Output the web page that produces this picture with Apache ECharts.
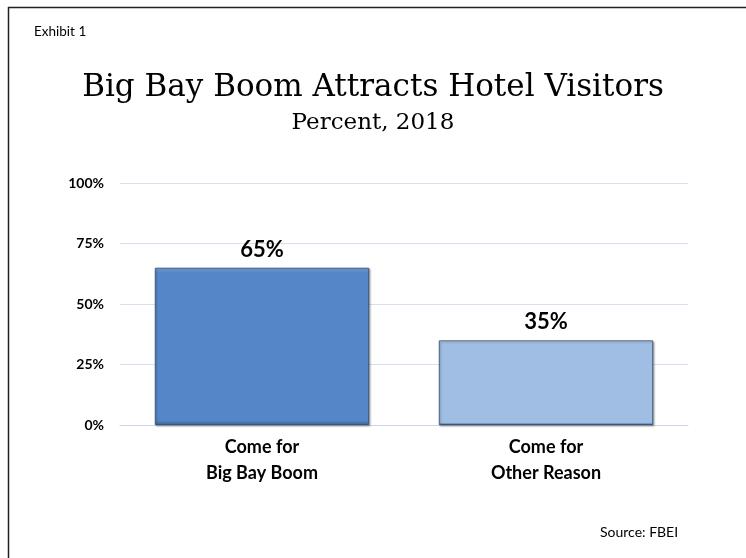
<!DOCTYPE html>
<html>
<head>
<meta charset="utf-8">
<script src="https://cdn.jsdelivr.net/npm/echarts@6/dist/echarts.min.js"></script>
<style>
  html, body { margin: 0; padding: 0; background: #fff; }
  #chart { width: 746px; height: 558px; }
</style>
</head>
<body>
<div id="chart"></div>
<script>
// Share of hotel visitors by reason for visit, 2018
var categories = ['Come for\nBig Bay Boom', 'Come for\nOther Reason'];
var values = [65, 35];
var barColors = ['#5587C8', '#A0BDE3'];
var barTopColors = ['#86ABDD', '#C3D6EE'];
var yTicks = [0, 25, 50, 75, 100];

var sansFont = 'Lato, "Open Sans", sans-serif';
var serifFont = '"DejaVu Serif", "Liberation Serif", serif';

var chart = echarts.init(document.getElementById('chart'));

chart.setOption({
  backgroundColor: '#ffffff',
  animation: false,
  title: [
    {
      text: 'Big Bay Boom Attracts Hotel Visitors',
      left: 'center',
      top: 67,
      textStyle: { fontFamily: serifFont, fontSize: 31, fontWeight: 'normal', color: '#000' }
    },
    {
      text: 'Percent, 2018',
      left: 'center',
      top: 107,
      textStyle: { fontFamily: serifFont, fontSize: 23, fontWeight: 'normal', color: '#000' }
    },
    {
      text: 'Exhibit 1',
      left: 29,
      top: 20,
      textStyle: { fontFamily: sansFont, fontSize: 13.5, fontWeight: 'normal', color: '#000' }
    },
    {
      text: 'Source: FBEI',
      left: 595,
      top: 520,
      textStyle: { fontFamily: sansFont, fontSize: 14, fontWeight: 'normal', color: '#000' }
    }
  ],
  graphic: [
    { type: 'line', shape: { x1: 8, y1: 7.5, x2: 746, y2: 7.5 }, style: { stroke: '#222', lineWidth: 1.5 } },
    { type: 'line', shape: { x1: 8.5, y1: 7, x2: 8.5, y2: 558 }, style: { stroke: '#222', lineWidth: 1.5 } }
  ],
  grid: { left: 120, right: 58, top: 183, bottom: 133, containLabel: false },
  xAxis: {
    type: 'category',
    data: categories,
    axisLine: { show: true, lineStyle: { color: '#C9D5E8', width: 1 } },
    axisTick: { show: false },
    axisLabel: {
      margin: 9,
      fontFamily: sansFont,
      fontSize: 18,
      fontWeight: 'bold',
      color: '#000',
      lineHeight: 26
    }
  },
  yAxis: {
    type: 'value',
    min: 0,
    max: 100,
    interval: 25,
    axisLine: { show: false },
    axisTick: { show: false },
    splitLine: { lineStyle: { color: '#D6E0EF', width: 1 } },
    axisLabel: {
      margin: 16,
      fontFamily: sansFont,
      fontSize: 14,
      fontWeight: 'bold',
      color: '#000',
      formatter: function (v) { return yTicks.indexOf(v) >= 0 ? v + '%' : ''; }
    }
  },
  series: [{
    type: 'bar',
    barWidth: '75.5%',
    data: values.map(function (v, i) {
      return {
        value: v,
        itemStyle: {
          color: {
            type: 'linear', x: 0, y: 0, x2: 0, y2: 1,
            colorStops: [
              { offset: 0, color: barTopColors[i] },
              { offset: 0.03, color: barColors[i] },
              { offset: 0.97, color: barColors[i] },
              { offset: 1, color: '#3E6594' }
            ]
          }
        }
      };
    }),
    itemStyle: {
      borderColor: 'rgba(40,70,110,0.75)',
      borderWidth: 1,
      shadowColor: 'rgba(0,0,0,0.35)',
      shadowBlur: 2,
      shadowOffsetX: 1,
      shadowOffsetY: 1
    },
    label: {
      show: true,
      position: 'top',
      distance: 7,
      fontFamily: sansFont,
      fontSize: 22,
      fontWeight: 'bold',
      color: '#000',
      formatter: function (p) { return p.value + '%'; }
    }
  }]
});
</script>
</body>
</html>
